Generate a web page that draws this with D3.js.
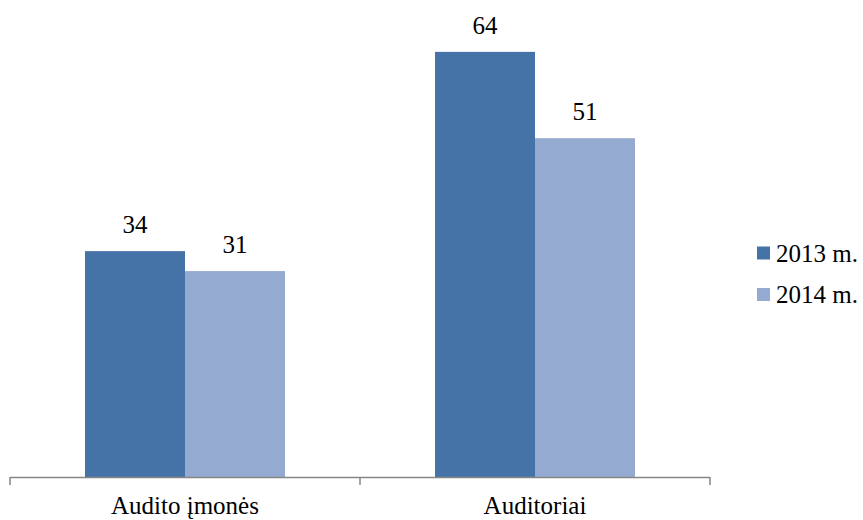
<!DOCTYPE html>
<html>
<head>
<meta charset="utf-8">
<script src="https://cdn.jsdelivr.net/npm/d3@7"></script>
<style>
  html, body { margin: 0; padding: 0; background: #fff; }
  svg { display: block; }
</style>
</head>
<body>
<svg id="chart" width="863" height="520"></svg>
<script>
const categories = ["Audito įmonės", "Auditoriai"];
const seriesNames = ["2013 m.", "2014 m."];
const values2013 = [34, 64];
const values2014 = [31, 51];
const colors = ["#4673A7", "#95AAD1"];
const FONT = "serif";

const series = [values2013, values2014];
const svg = d3.select("#chart").style("font-family", FONT);
const plot = { left: 10, right: 710, top: 12, bottom: 477 };

const x0 = d3.scaleBand().domain(categories).range([plot.left, plot.right]).paddingInner(0).paddingOuter(0);
const x1 = d3.scaleBand().domain(seriesNames).range([0, x0.bandwidth()]).paddingInner(0).paddingOuter(0.75);
const y = d3.scaleLinear().domain([0, 70]).range([plot.bottom, plot.top]);

const data = [];
categories.forEach((c, i) => {
  seriesNames.forEach((s, j) => data.push({ cat: c, ser: s, v: series[j][i], j }));
});

svg.append("g").selectAll("rect").data(data).join("rect")
  .attr("x", d => x0(d.cat) + x1(d.ser))
  .attr("y", d => y(d.v))
  .attr("width", x1.bandwidth())
  .attr("height", d => y(0) - y(d.v))
  .attr("fill", d => colors[d.j]);

svg.append("g").selectAll("text").data(data).join("text")
  .attr("x", d => x0(d.cat) + x1(d.ser) + x1.bandwidth() / 2)
  .attr("y", d => y(d.v) - 18)
  .attr("text-anchor", "middle")
  .attr("font-family", FONT)
  .attr("font-size", 25)
  .attr("fill", "#000")
  .text(d => d.v);

// x axis
const axisG = svg.append("g");
axisG.append("line")
  .attr("x1", plot.left).attr("x2", plot.right)
  .attr("y1", plot.bottom + 0.5).attr("y2", plot.bottom + 0.5)
  .attr("stroke", "#868686").attr("stroke-width", 1.5);
const tickPos = [plot.left, ...categories.map(c => x0(c) + x0.bandwidth())];
axisG.selectAll("line.tick").data(tickPos).join("line").attr("class", "tick")
  .attr("x1", d => d).attr("x2", d => d)
  .attr("y1", plot.bottom).attr("y2", plot.bottom + 8)
  .attr("stroke", "#868686").attr("stroke-width", 1.5);
axisG.selectAll("text").data(categories).join("text")
  .attr("x", d => x0(d) + x0.bandwidth() / 2)
  .attr("y", 514)
  .attr("text-anchor", "middle")
  .attr("font-family", FONT)
  .attr("font-size", 25)
  .attr("fill", "#000")
  .text(d => d);

// legend
const leg = svg.append("g");
seriesNames.forEach((s, j) => {
  const by = 261.5 + j * 41.5;
  leg.append("rect").attr("x", 757).attr("y", by - 15).attr("width", 13).attr("height", 13).attr("fill", colors[j]);
  leg.append("text").attr("x", 776).attr("y", by)
    .attr("font-family", FONT).attr("font-size", 25).attr("fill", "#000").text(s);
});
</script>
</body>
</html>
